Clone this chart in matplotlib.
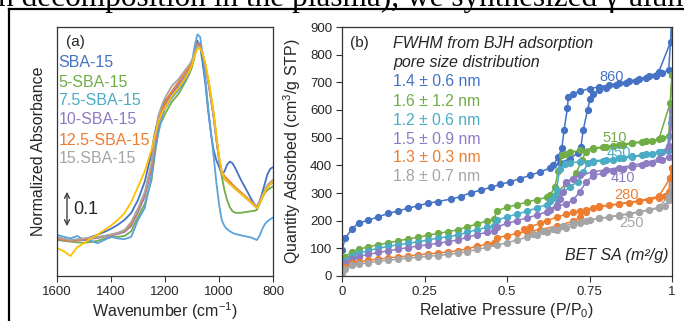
import matplotlib
matplotlib.use('Agg')
import matplotlib.pyplot as plt
from matplotlib.lines import Line2D

plt.rcParams['font.family'] = ['Liberation Sans', 'DejaVu Sans']
plt.rcParams['mathtext.fontset'] = 'custom'
plt.rcParams['mathtext.rm'] = 'Liberation Sans'
plt.rcParams['mathtext.it'] = 'Liberation Sans:italic'
plt.rcParams['mathtext.bf'] = 'Liberation Sans:bold'

# ---------------- Panel (a) data: FTIR ----------------
wn = [1600, 1575, 1550, 1525, 1500, 1475, 1450, 1425, 1400, 1375, 1350, 1325,
      1300, 1275, 1250, 1240, 1225, 1210, 1200,
      1175, 1150, 1125, 1110, 1100, 1090, 1080, 1070, 1060, 1050, 1040, 1030, 1020, 1010, 1000,
      990, 980, 970, 960, 950, 940,
      920, 900, 880, 870, 860, 850, 840, 830, 820, 810, 800]

abs_sba15 = [0.097, 0.092, 0.088, 0.090, 0.092, 0.097, 0.103, 0.110, 0.118, 0.128, 0.140, 0.158,
             0.190, 0.236, 0.307, 0.350, 0.395, 0.425, 0.438,
             0.455, 0.472, 0.492, 0.510, 0.527, 0.555, 0.588, 0.575, 0.530, 0.478, 0.412, 0.357, 0.315, 0.290, 0.273,
             0.255, 0.261, 0.278, 0.286, 0.282, 0.270,
             0.242, 0.217, 0.192, 0.180, 0.173, 0.186, 0.207, 0.232, 0.255, 0.268, 0.272]
abs_5 = [0.090, 0.088, 0.086, 0.084, 0.083, 0.085, 0.088, 0.093, 0.097, 0.098, 0.100, 0.112,
         0.148, 0.180, 0.240, 0.290, 0.370, 0.390, 0.405,
         0.435, 0.455, 0.485, 0.505, 0.522, 0.550, 0.580, 0.578, 0.553, 0.525, 0.490, 0.450, 0.405, 0.350, 0.295,
         0.250, 0.215, 0.190, 0.172, 0.162, 0.158,
         0.158, 0.160, 0.162, 0.163, 0.165, 0.180, 0.195, 0.208, 0.215, 0.220, 0.224]
abs_75 = [0.103, 0.098, 0.094, 0.100, 0.090, 0.088, 0.082, 0.090, 0.098, 0.094, 0.092, 0.098,
          0.140, 0.170, 0.248, 0.300, 0.355, 0.400, 0.418,
          0.445, 0.465, 0.490, 0.510, 0.535, 0.575, 0.604, 0.598, 0.550, 0.490, 0.420, 0.360, 0.300, 0.235, 0.180,
          0.140, 0.125, 0.117, 0.112, 0.108, 0.105,
          0.102, 0.099, 0.096, 0.093, 0.090, 0.100, 0.117, 0.130, 0.137, 0.142, 0.146]
abs_10 = [0.092, 0.089, 0.088, 0.089, 0.090, 0.093, 0.095, 0.098, 0.101, 0.105, 0.110, 0.125,
          0.160, 0.198, 0.268, 0.315, 0.380, 0.412, 0.428,
          0.455, 0.478, 0.500, 0.516, 0.532, 0.555, 0.583, 0.577, 0.552, 0.522, 0.485, 0.442, 0.397, 0.342, 0.292,
          0.258, 0.246, 0.240, 0.233, 0.226, 0.219,
          0.207, 0.195, 0.183, 0.176, 0.171, 0.181, 0.197, 0.211, 0.223, 0.229, 0.234]
abs_125 = [0.094, 0.090, 0.088, 0.090, 0.092, 0.095, 0.097, 0.100, 0.103, 0.107, 0.113, 0.130,
           0.165, 0.205, 0.275, 0.322, 0.390, 0.420, 0.435,
           0.462, 0.485, 0.508, 0.522, 0.536, 0.556, 0.580, 0.575, 0.553, 0.525, 0.488, 0.445, 0.400, 0.345, 0.295,
           0.262, 0.250, 0.243, 0.236, 0.229, 0.222,
           0.210, 0.198, 0.186, 0.178, 0.172, 0.183, 0.200, 0.214, 0.226, 0.232, 0.237]
abs_15 = [0.097, 0.093, 0.090, 0.092, 0.094, 0.096, 0.097, 0.100, 0.104, 0.108, 0.115, 0.135,
          0.169, 0.210, 0.282, 0.330, 0.400, 0.430, 0.445,
          0.475, 0.492, 0.515, 0.528, 0.540, 0.558, 0.575, 0.572, 0.553, 0.525, 0.488, 0.445, 0.400, 0.345, 0.292,
          0.255, 0.242, 0.236, 0.230, 0.225, 0.219,
          0.207, 0.196, 0.184, 0.177, 0.170, 0.182, 0.200, 0.215, 0.228, 0.235, 0.240]
abs_extra = [0.070, 0.062, 0.050, 0.072, 0.082, 0.094, 0.103, 0.115, 0.126, 0.140, 0.157, 0.185,
             0.223, 0.262, 0.315, 0.345, 0.385, 0.410, 0.420,
             0.450, 0.470, 0.495, 0.512, 0.527, 0.552, 0.568, 0.570, 0.555, 0.530, 0.495, 0.455, 0.410, 0.355, 0.300,
             0.262, 0.245, 0.237, 0.230, 0.224, 0.218,
             0.206, 0.195, 0.183, 0.176, 0.170, 0.180, 0.196, 0.210, 0.222, 0.230, 0.236]

ftir_labels = ['SBA-15', '5-SBA-15', '7.5-SBA-15', '10-SBA-15', '12.5-SBA-15', '15.SBA-15']
ftir_label_colors = ['#4472C4', '#70AD47', '#4BACC6', '#8E7CC3', '#ED7D31', '#A5A5A5']

# ---------------- Panel (b) data: N2 isotherms ----------------
blue_ads_p = [0.0, 0.01, 0.03, 0.05, 0.08, 0.11, 0.14, 0.17, 0.2, 0.23, 0.26, 0.29, 0.33, 0.36, 0.39, 0.42,
              0.45, 0.48, 0.51, 0.54, 0.57, 0.6, 0.63, 0.66, 0.69, 0.715, 0.724, 0.731, 0.744, 0.752, 0.76,
              0.78, 0.8, 0.83, 0.86, 0.89, 0.92, 0.95, 0.97, 0.99, 1.0]
blue_ads_q = [94, 137, 170, 191, 202, 214, 226, 235, 245, 254, 263, 269, 278, 287, 301, 310,
              320, 331, 341, 352, 364, 376, 390, 409, 424, 445, 465, 528, 600, 640, 658,
              672, 681, 690, 698, 706, 714, 724, 733, 745, 930]
blue_des_p = [1.0, 0.996, 0.96, 0.93, 0.9, 0.87, 0.84, 0.81, 0.78, 0.75, 0.72, 0.7, 0.686, 0.683, 0.673,
              0.666, 0.655, 0.64]
blue_des_q = [930, 847, 738, 722, 712, 704, 697, 690, 684, 677, 668, 658, 648, 606, 528, 461, 430, 400]

green_ads_p = [0.0, 0.01, 0.03, 0.05, 0.08, 0.11, 0.14, 0.17, 0.2, 0.23, 0.26, 0.29, 0.32, 0.35, 0.38, 0.41,
               0.44, 0.46, 0.47, 0.5, 0.53, 0.56, 0.59, 0.62, 0.65, 0.68, 0.71, 0.726, 0.74, 0.76, 0.79,
               0.82, 0.85, 0.88, 0.91, 0.94, 0.97, 0.99, 1.0]
green_ads_q = [46, 70, 88, 96, 106, 113, 120, 127, 134, 140, 147, 154, 160, 167, 178, 188,
               200, 206, 236, 248, 258, 267, 276, 284, 300, 335, 371, 419, 449, 458, 465,
               470, 474, 479, 484, 489, 497, 507, 726]
green_des_p = [1.0, 0.994, 0.96, 0.92, 0.88, 0.84, 0.8, 0.76, 0.72, 0.69, 0.68, 0.667, 0.655, 0.645, 0.63]
green_des_q = [726, 624, 494, 488, 481, 475, 468, 462, 454, 447, 442, 437, 380, 320, 293]

cyan_ads_p = [0.0, 0.01, 0.03, 0.05, 0.08, 0.11, 0.14, 0.17, 0.2, 0.23, 0.26, 0.29, 0.32, 0.35, 0.38, 0.41,
              0.44, 0.46, 0.47, 0.5, 0.53, 0.56, 0.59, 0.62, 0.65, 0.69, 0.716, 0.731, 0.746, 0.761, 0.79,
              0.82, 0.85, 0.88, 0.91, 0.94, 0.97, 0.99, 1.0]
cyan_ads_q = [34, 56, 74, 82, 92, 100, 107, 113, 118, 124, 130, 137, 142, 148, 158, 168,
              176, 180, 202, 214, 224, 234, 246, 258, 280, 323, 341, 377, 408, 413, 416,
              420, 425, 430, 436, 442, 450, 456, 570]
cyan_des_p = [1.0, 0.996, 0.985, 0.96, 0.92, 0.88, 0.84, 0.8, 0.76, 0.72, 0.69, 0.676, 0.66, 0.65, 0.645, 0.63]
cyan_des_q = [570, 552, 455, 449, 440, 432, 426, 420, 416, 413, 409, 404, 388, 311, 290, 270]

purple_ads_p = [0.0, 0.01, 0.03, 0.05, 0.08, 0.11, 0.14, 0.17, 0.2, 0.23, 0.26, 0.29, 0.32, 0.35, 0.38, 0.41,
                0.44, 0.46, 0.47, 0.5, 0.53, 0.56, 0.59, 0.62, 0.65, 0.68, 0.7, 0.72, 0.74, 0.76, 0.79,
                0.82, 0.85, 0.88, 0.91, 0.94, 0.97, 0.99, 1.0]
purple_ads_q = [28, 46, 62, 70, 78, 85, 91, 97, 103, 108, 113, 118, 124, 130, 140, 150,
                158, 163, 178, 190, 200, 210, 220, 232, 250, 262, 274, 304, 340, 362, 372,
                380, 387, 394, 400, 407, 418, 430, 600]
purple_des_p = [1.0, 0.99, 0.96, 0.92, 0.88, 0.84, 0.8, 0.76, 0.72, 0.7, 0.68, 0.67, 0.66, 0.65, 0.63]
purple_des_q = [600, 470, 422, 410, 400, 392, 384, 376, 364, 350, 338, 305, 278, 258, 240]

orange_ads_p = [0.0, 0.01, 0.03, 0.05, 0.08, 0.11, 0.14, 0.17, 0.2, 0.23, 0.26, 0.29, 0.32, 0.35, 0.38, 0.41,
                0.44, 0.46, 0.47, 0.5, 0.53, 0.56, 0.6, 0.65, 0.7, 0.72, 0.74, 0.76, 0.78, 0.81,
                0.84, 0.87, 0.9, 0.93, 0.96, 0.98, 0.99, 0.994, 1.0]
orange_ads_q = [16, 32, 46, 52, 57, 61, 65, 69, 72, 76, 80, 83, 87, 91, 98, 108,
                114, 118, 138, 146, 154, 160, 168, 180, 198, 212, 232, 244, 250, 255,
                260, 265, 270, 276, 283, 290, 305, 353, 389]
orange_des_p = [1.0, 0.994, 0.96, 0.9, 0.84, 0.78, 0.74, 0.72, 0.7, 0.68, 0.65, 0.62, 0.6, 0.57, 0.55]
orange_des_q = [389, 353, 288, 272, 261, 252, 240, 236, 230, 224, 212, 200, 190, 178, 170]

gray_ads_p = [0.0, 0.01, 0.03, 0.05, 0.08, 0.11, 0.14, 0.17, 0.2, 0.23, 0.26, 0.29, 0.32, 0.35, 0.38, 0.41,
              0.44, 0.47, 0.5, 0.53, 0.56, 0.59, 0.62, 0.65, 0.68, 0.7, 0.72, 0.75, 0.78, 0.81, 0.84,
              0.87, 0.9, 0.93, 0.96, 0.98, 0.99, 1.0]
gray_ads_q = [10, 26, 38, 43, 48, 53, 57, 61, 64, 68, 71, 74, 78, 82, 88, 96,
              104, 112, 120, 130, 140, 150, 158, 165, 172, 184, 192, 202, 208, 213, 218,
              224, 231, 238, 245, 254, 275, 328]
gray_des_p = [1.0, 0.99, 0.96, 0.9, 0.84, 0.78, 0.74, 0.72, 0.7, 0.67, 0.64, 0.61, 0.58]
gray_des_q = [328, 290, 248, 232, 220, 208, 200, 196, 190, 180, 170, 162, 152]

fwhm_labels = ['1.4 \u00b1 0.6 nm', '1.6 \u00b1 1.2 nm', '1.2 \u00b1 0.6 nm',
               '1.5 \u00b1 0.9 nm', '1.3 \u00b1 0.3 nm', '1.8 \u00b1 0.7 nm']
bet_labels = ['860', '510', '450', '410', '280', '250']
iso_colors = ['#4472C4', '#70AD47', '#4BACC6', '#8E7CC3', '#ED7D31', '#A5A5A5']

# ---------------- Figure ----------------
W, H = 684, 321
fig = plt.figure(figsize=(W / 100, H / 100), dpi=100)


def rect(l, t, r, b):
    return [l / W, 1 - b / H, (r - l) / W, (b - t) / H]


axa = fig.add_axes(rect(57, 27, 273, 276))
axb = fig.add_axes(rect(342, 27, 672, 276))

spine_col = '#333333'
tick_col = '#262626'

# ---- panel a ----
ftir_series = [(abs_sba15, '#4472C4'), (abs_5, '#70AD47'), (abs_75, '#5BA3D9'),
               (abs_10, '#8E7CC3'), (abs_125, '#ED7D31'), (abs_15, '#A5A5A5'),
               (abs_extra, '#FFC000')]
for vals, col in ftir_series:
    axa.plot(wn, vals, color=col, lw=1.3)
axa.set_xlim(1600, 800)
axa.set_ylim(0, 0.6225)
axa.set_xticks([1600, 1400, 1200, 1000, 800])
axa.set_yticks([])
axa.tick_params(axis='x', direction='out', length=4, width=0.8, colors=spine_col,
                labelcolor=tick_col, labelsize=9.5, pad=3)
for s in axa.spines.values():
    s.set_color(spine_col)
    s.set_linewidth(0.9)
axa.set_xlabel('Wavenumber (cm$^{-1}$)', fontsize=11.5, color=tick_col, labelpad=2)
axa.set_ylabel('Normalized Absorbance', fontsize=11.5, color=tick_col, labelpad=8)

axa.text(0.042, 0.94, '(a)', transform=axa.transAxes, fontsize=11, color=tick_col,
         ha='left', va='center')
ly = [0.859, 0.779, 0.703, 0.627, 0.546, 0.470]
for lab, col, y in zip(ftir_labels, ftir_label_colors, ly):
    axa.text(0.006, y, lab, transform=axa.transAxes, fontsize=11.5, color=col,
             ha='left', va='center')

axa.annotate('', xy=(1563, 0.2175), xytext=(1563, 0.1175),
             arrowprops=dict(arrowstyle='<->', color='#404040', lw=1.0, mutation_scale=9))
axa.text(1540, 0.1675, '0.1', fontsize=13, color=tick_col, ha='left', va='center')

# ---- panel b ----
branches = [
    (blue_ads_p, blue_ads_q, blue_des_p, blue_des_q),
    (green_ads_p, green_ads_q, green_des_p, green_des_q),
    (cyan_ads_p, cyan_ads_q, cyan_des_p, cyan_des_q),
    (purple_ads_p, purple_ads_q, purple_des_p, purple_des_q),
    (orange_ads_p, orange_ads_q, orange_des_p, orange_des_q),
    (gray_ads_p, gray_ads_q, gray_des_p, gray_des_q),
]
for (ap, aq, dp, dq), col in zip(branches, iso_colors):
    axb.plot(ap, aq, '-o', color=col, lw=1.1, ms=4.2)
    axb.plot(dp, dq, '-o', color=col, lw=1.1, ms=4.2)

axb.set_xlim(0, 1)
axb.set_ylim(0, 900)
axb.set_xticks([0, 0.25, 0.5, 0.75, 1])
axb.set_xticklabels(['0', '0.25', '0.5', '0.75', '1'])
axb.set_yticks(range(0, 1000, 100))
axb.tick_params(direction='out', length=4, width=0.8, colors=spine_col,
                labelcolor=tick_col, labelsize=9.5, pad=3)
for s in axb.spines.values():
    s.set_color(spine_col)
    s.set_linewidth(0.9)
axb.set_xlabel('Relative Pressure (P/P$_0$)', fontsize=11.5, color=tick_col, labelpad=2)
axb.set_ylabel('Quantity Adsorbed (cm$^3$/g STP)', fontsize=11.5, color=tick_col, labelpad=5)

axb.text(0.024, 0.935, '(b)', transform=axb.transAxes, fontsize=11, color=tick_col,
         ha='left', va='center')
axb.text(0.155, 0.9345, 'FWHM from BJH adsorption', transform=axb.transAxes, fontsize=11.5,
         style='italic', color=tick_col, ha='left', va='center')
axb.text(0.155, 0.8566, 'pore size distribution', transform=axb.transAxes, fontsize=11.5,
         style='italic', color=tick_col, ha='left', va='center')
fy = [0.7803, 0.7028, 0.6265, 0.5502, 0.4739, 0.3988]
for lab, col, y in zip(fwhm_labels, iso_colors, fy):
    axb.text(0.155, y, lab, transform=axb.transAxes, fontsize=11.3, color=col,
             ha='left', va='center')

bpos = [(0.817, 0.800), (0.827, 0.553), (0.839, 0.495), (0.851, 0.392), (0.861, 0.325), (0.876, 0.212)]
for lab, col, (x, y) in zip(bet_labels, iso_colors, bpos):
    axb.text(x, y, lab, transform=axb.transAxes, fontsize=10.5, color=col,
             ha='center', va='center', zorder=5)
axb.text(0.988, 0.084, 'BET SA (m\u00b2/g)', transform=axb.transAxes, fontsize=11.5,
         style='italic', color=tick_col, ha='right', va='center')

# ---- surrounding document context (clipped at the top, as in the source page) ----
fig.text(-2 / W, 1 - 6 / H, 'n decomposition in the plasma), we synthesized \u03b3-alumina',
         family=['Liberation Serif', 'DejaVu Serif'], fontsize=22.5, ha='left', va='baseline',
         color='black')
fig.add_artist(Line2D([9 / W, 1], [1 - 9 / H, 1 - 9 / H], color='black', lw=1.6))
fig.add_artist(Line2D([9 / W, 9 / W], [0, 1 - 9 / H], color='black', lw=1.6))

fig.savefig('out.png', dpi=100)
